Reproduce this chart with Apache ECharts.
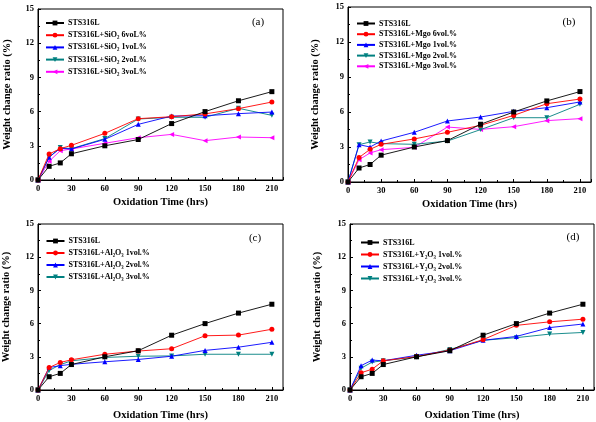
<!DOCTYPE html>
<html><head><meta charset="utf-8">
<script src="https://cdn.jsdelivr.net/npm/echarts@6/dist/echarts.min.js"></script>
<style>html,body{margin:0;padding:0;background:#fff}#c{width:596px;height:422px}</style>
</head><body><div id="c"></div>
<script>
const time = [0,10,20,30,60,90,120,150,180,210];
const xTicks = [0,30,60,90,120,150,180,210];
const yTicks = [0,3,6,9,12,15];
const sts = [0,1.2,1.5,2.3,3.0,3.55,4.95,6.0,6.95,7.75];
// (a) SiO2
const namesA = ['STS316L','STS316L+SiO\u2082 6voL%','STS316L+SiO\u2082 1voL%','STS316L+SiO\u2082 2voL%','STS316L+SiO\u2082 3voL%'];
const si6 = [0,2.28,2.75,3.04,4.09,5.38,5.55,5.8,6.26,6.84];
const si1 = [0,2.0,2.78,2.72,3.57,4.88,5.61,5.64,5.82,5.96];
const si2 = [0,2.0,2.84,2.75,3.63,5.35,5.5,5.5,6.29,5.67];
const si3 = [0,1.64,2.57,2.72,3.22,3.71,4.0,3.45,3.77,3.71];
// (b) Mgo
const namesB = ['STS316L','STS316L+Mgo 6vol.%','STS316L+Mgo 1vol.%','STS316L+Mgo 2vol.%','STS316L+Mgo 3vol.%'];
const mg6 = [0,2.1,2.8,3.23,3.69,4.26,4.86,5.71,6.71,7.11];
const mg1 = [0,3.2,3.0,3.51,4.26,5.23,5.57,6.06,6.37,6.86];
const mg2 = [0,3.2,3.43,3.29,3.23,3.51,4.49,5.51,5.51,6.66];
const mg3 = [0,1.91,2.49,2.77,2.97,4.71,4.51,4.74,5.26,5.43];
// (c) Al2O3
const namesC = ['STS316L','STS316L+Al\u2082O\u2083 1vol.%','STS316L+Al\u2082O\u2083 2vol.%','STS316L+Al\u2082O\u2083 3vol.%'];
const al1 = [0,2.03,2.49,2.73,3.23,3.52,3.73,4.9,4.96,5.49];
const al2 = [0,2.03,2.2,2.32,2.55,2.76,3.05,3.58,3.87,4.31];
const al3 = [0,1.76,2.29,2.64,2.94,3.05,3.08,3.23,3.23,3.23];
// (d) Y2O3
const namesD = ['STS316L','STS316L+Y\u2082O\u2083 1vol.%','STS316L+Y\u2082O\u2083 2vol.%','STS316L+Y\u2082O\u2083 3vol.%'];
const y1 = [0,1.56,1.88,2.64,3.02,3.61,4.55,5.84,6.16,6.4];
const y2 = [0,2.2,2.7,2.64,3.14,3.55,4.49,4.84,5.64,5.96];
const y3 = [0,1.97,2.52,2.64,2.99,3.67,4.49,4.73,5.05,5.2];
const panelLabels = ['(a)','(b)','(c)','(d)'];

const FF = '"Liberation Serif","Times New Roman",serif';
const colors = ['#000000','#ff0000','#0000ff','#008080','#ff00ff'];
const symbols = [['rect',0],['circle',0],['triangle',0],['triangle',180],['triangle',90]];

const grids = [
  {left:38, top:9, width:245, height:171},
  {left:348, top:7, width:243, height:175},
  {left:38, top:224, width:245, height:170},
  {left:350, top:224, width:244, height:170}
];
const yNameGap = [25, 27, 26, 27];
const xNameGap = [17, 17, 20, 20];
const legendPos = [
  {left:45, top:18, gap:2.2},
  {left:356, top:18.5, gap:0.7},
  {left:45.5, top:236, gap:2},
  {left:360, top:237.5, gap:2}
];
const labelPos = [[258,22],[569,22],[255,238],[573,237]];
const panels = [
  {names:namesA, data:[sts,si6,si1,si2,si3]},
  {names:namesB, data:[sts,mg6,mg1,mg2,mg3]},
  {names:namesC, data:[sts,al1,al2,al3]},
  {names:namesD, data:[sts,y1,y2,y3]}
];

const xAxis = [], yAxis = [], series = [], legend = [], graphic = [];
panels.forEach((p, gi) => {
  xAxis.push({
    type:'value', gridIndex:gi, min:0, max:220, interval:30,
    name:'Oxidation Time (hrs)', nameLocation:'middle', nameGap:xNameGap[gi],
    nameTextStyle:{fontFamily:FF, fontWeight:'bold', fontSize:10.5, color:'#000'},
    axisLine:{show:true, lineStyle:{color:'#000', width:1}},
    axisTick:{show:true, inside:true, length:3, lineStyle:{color:'#000'}},
    minorTick:{show:true, splitNumber:2, length:2, lineStyle:{color:'#000'}},
    splitLine:{show:false},
    axisLabel:{fontFamily:FF, fontWeight:'bold', fontSize:8.5, color:'#000', margin:4,
      showMaxLabel:false,
      formatter:v => xTicks.indexOf(v) >= 0 ? String(v) : ''}
  });
  yAxis.push({
    type:'value', gridIndex:gi, min:0, max:15, interval:3,
    name:'Weight change ratio (%)', nameLocation:'middle', nameGap:yNameGap[gi], nameRotate:90,
    nameTextStyle:{fontFamily:FF, fontWeight:'bold', fontSize:10.5, color:'#000'},
    axisLine:{show:true, lineStyle:{color:'#000', width:1}},
    axisTick:{show:true, inside:true, length:3, lineStyle:{color:'#000'}},
    minorTick:{show:true, splitNumber:2, length:2, lineStyle:{color:'#000'}},
    splitLine:{show:false},
    axisLabel:{fontFamily:FF, fontWeight:'bold', fontSize:8.5, color:'#000', margin:4,
      formatter:v => yTicks.indexOf(v) >= 0 ? String(v) : ''}
  });
  p.names.forEach((nm, si) => {
    series.push({
      type:'line', name:nm, xAxisIndex:gi, yAxisIndex:gi,
      data: time.map((t, k) => [t, p.data[si][k]]),
      symbol: symbols[si][0], symbolRotate: symbols[si][1], symbolSize: 5,
      showAllSymbol:true,
      itemStyle:{color:colors[si]},
      lineStyle:{color:colors[si], width:0.9},
      animation:false, z: 10 - si
    });
  });
  legend.push({
    data: p.names, orient:'vertical', left:legendPos[gi].left, top:legendPos[gi].top,
    padding:0, itemWidth:18, itemHeight:6, itemGap:legendPos[gi].gap,
    selectedMode:false,
    textStyle:{fontFamily:FF, fontWeight:'bold', fontSize:8, color:'#000', lineHeight:10, padding:[0,0,0,-1]}
  });
  graphic.push({
    type:'text', x:labelPos[gi][0], y:labelPos[gi][1],
    style:{text:panelLabels[gi], font:'11px ' + FF, fill:'#000', textAlign:'center', textVerticalAlign:'middle'}
  });
});

const chart = echarts.init(document.getElementById('c'), null, {renderer:'canvas'});
chart.setOption({
  animation:false,
  backgroundColor:'#fff',
  grid: grids.map(g => Object.assign({show:true, borderColor:'#000', borderWidth:1, backgroundColor:'transparent', containLabel:false}, g)),
  xAxis, yAxis, series, legend, graphic
});
</script></body></html>
